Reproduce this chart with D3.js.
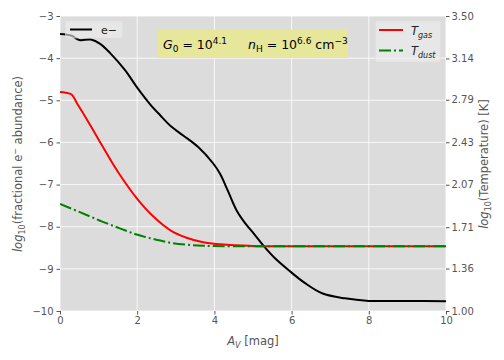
<!DOCTYPE html>
<html>
<head>
<meta charset="utf-8">
<script src="https://cdn.jsdelivr.net/npm/d3@7"></script>
<style>
body { margin: 0; background: #fff; }
text { font-family: "DejaVu Sans", sans-serif; }
</style>
</head>
<body>
<svg id="chart" width="504" height="360"></svg>
<script>
// A_V grid and curves
var avElec = [0, 0.3, 0.5, 0.8, 1.04, 1.3, 1.68, 2.0, 2.33, 2.59, 2.89, 3.2, 3.58, 3.97, 4.15, 4.35, 4.58, 4.8, 5.01, 5.27, 5.57, 5.96, 6.35, 6.79, 7.38, 8.0, 9.0, 10.0];
var logElec = [-3.43, -3.47, -3.57, -3.56, -3.66, -3.88, -4.28, -4.7, -5.09, -5.35, -5.63, -5.84, -6.11, -6.5, -6.75, -7.15, -7.62, -7.92, -8.15, -8.45, -8.75, -9.06, -9.34, -9.58, -9.70, -9.76, -9.76, -9.77];

var avGas = [0, 0.15, 0.3, 0.45, 0.6, 0.8, 1.04, 1.3, 1.55, 1.99, 2.42, 2.85, 3.28, 3.71, 4.15, 5.0, 6.0, 7.0, 8.0, 9.0, 10.0];
var logTgas = [2.856, 2.85, 2.835, 2.755, 2.675, 2.565, 2.43, 2.285, 2.155, 1.955, 1.80, 1.686, 1.621, 1.582, 1.565, 1.551, 1.548, 1.548, 1.548, 1.548, 1.548];

var avDust = [0, 0.5, 1.04, 1.55, 1.99, 2.42, 2.85, 3.28, 3.71, 4.5, 6.0, 7.0, 8.0, 9.0, 10.0];
var logTdust = [1.907, 1.84, 1.765, 1.70, 1.648, 1.61, 1.579, 1.562, 1.553, 1.549, 1.548, 1.548, 1.548, 1.548, 1.548];

var xTicks = [0, 2, 4, 6, 8, 10];
var yTicks = [-10, -9, -8, -7, -6, -5, -4, -3];
var tTicks = [1.00, 1.36, 1.71, 2.07, 2.43, 2.79, 3.14, 3.50];

(function() {
var svg = d3.select('#chart');
var mL = 60, mR = 446, mT = 16, mB = 311;

var x = d3.scaleLinear().domain([0, 10]).range([mL, mR]);
var y = d3.scaleLinear().domain([-10, -3]).range([mB, mT]);
var yT = d3.scaleLinear().domain([1.0, 3.5]).range([mB, mT]);

svg.append('rect')
    .attr('x', mL).attr('y', mT)
    .attr('width', mR - mL).attr('height', mB - mT)
    .attr('fill', '#dcdcdc');

// grid
svg.append('g').selectAll('line').data(xTicks).enter().append('line')
    .attr('x1', x).attr('x2', x).attr('y1', mT).attr('y2', mB)
    .attr('stroke', '#fff').attr('stroke-width', 0.8);
svg.append('g').selectAll('line').data(yTicks).enter().append('line')
    .attr('x1', mL).attr('x2', mR).attr('y1', y).attr('y2', y)
    .attr('stroke', '#fff').attr('stroke-width', 0.8);

function styleAxis(g) {
    g.select('.domain').remove();
    g.selectAll('.tick line').attr('stroke', '#555');
    g.selectAll('.tick text').attr('fill', '#555')
        .style('font-family', '"DejaVu Sans", sans-serif').style('font-size', '10px');
}

svg.append('g').attr('transform', 'translate(0,' + mB + ')')
    .call(d3.axisBottom(x).tickValues(xTicks).tickSize(3.5).tickPadding(2).tickFormat(d3.format('d')))
    .call(styleAxis);
svg.append('g').attr('transform', 'translate(' + mL + ',0)')
    .call(d3.axisLeft(y).tickValues(yTicks).tickSize(3.5).tickPadding(3).tickFormat(function(d) { return d < 0 ? '\u2212' + (-d) : d; }))
    .call(styleAxis);
svg.append('g').attr('transform', 'translate(' + mR + ',0)')
    .call(d3.axisRight(yT).tickValues(tTicks).tickSize(3.5).tickPadding(2).tickFormat(d3.format('.2f')))
    .call(styleAxis);

// curves
var lineE = d3.line().x(function(d) { return x(d[0]); }).y(function(d) { return y(d[1]); }).curve(d3.curveCatmullRom.alpha(0.5));
var lineT = d3.line().x(function(d) { return x(d[0]); }).y(function(d) { return yT(d[1]); }).curve(d3.curveCatmullRom.alpha(0.5));

svg.append('clipPath').attr('id', 'plotclip').append('rect')
    .attr('x', mL).attr('y', mT).attr('width', mR - mL).attr('height', mB - mT);
var plot = svg.append('g').attr('clip-path', 'url(#plotclip)');

plot.append('path').datum(d3.zip(avElec, logElec)).attr('d', lineE)
    .attr('fill', 'none').attr('stroke', '#000').attr('stroke-width', 2);
plot.append('path').datum(d3.zip(avGas, logTgas)).attr('d', lineT)
    .attr('fill', 'none').attr('stroke', '#ff0000').attr('stroke-width', 2);
plot.append('path').datum(d3.zip(avDust, logTdust)).attr('d', lineT)
    .attr('fill', 'none').attr('stroke', '#008000').attr('stroke-width', 2)
    .attr('stroke-dasharray', '12,3,2,3');

// annotation box
svg.append('rect').attr('x', 158).attr('y', 30).attr('width', 190).attr('height', 28)
    .attr('fill', '#e7e79b');
var ann = svg.append('text').attr('x', 163).attr('y', 49).attr('font-size', 12.5).attr('fill', '#000');
ann.append('tspan').attr('font-style', 'italic').text('G');
ann.append('tspan').attr('font-size', 9).attr('dy', 3).text('0');
ann.append('tspan').attr('dy', -3).text(' = 10');
ann.append('tspan').attr('font-size', 9).attr('dy', -5).text('4.1');
ann.append('tspan').attr('dy', 5).attr('x', 248).attr('font-style', 'italic').text('n');
ann.append('tspan').attr('font-size', 9).attr('dy', 3).text('H');
ann.append('tspan').attr('dy', -3).text(' = 10');
ann.append('tspan').attr('font-size', 9).attr('dy', -5).text('6.6');
ann.append('tspan').attr('dy', 5).text(' cm');
ann.append('tspan').attr('font-size', 9).attr('dy', -5).text('\u22123');

// legends
svg.append('rect').attr('x', 65.5).attr('y', 21).attr('width', 57).attr('height', 17).attr('rx', 2)
    .attr('fill', '#eeeeee').attr('fill-opacity', 0.6).attr('stroke', '#e0e0e0').attr('stroke-opacity', 0.6);
svg.append('line').attr('x1', 70).attr('x2', 92).attr('y1', 29.5).attr('y2', 29.5)
    .attr('stroke', '#000').attr('stroke-width', 2);
svg.append('text').attr('x', 101).attr('y', 34).attr('font-size', 11).attr('fill', '#222').text('e\u2212');

svg.append('rect').attr('x', 375.5).attr('y', 21).attr('width', 65).attr('height', 41).attr('rx', 2)
    .attr('fill', '#eeeeee').attr('fill-opacity', 0.6).attr('stroke', '#e0e0e0').attr('stroke-opacity', 0.6);
svg.append('line').attr('x1', 379).attr('x2', 403).attr('y1', 30).attr('y2', 30)
    .attr('stroke', '#ff0000').attr('stroke-width', 2);
svg.append('line').attr('x1', 379).attr('x2', 403).attr('y1', 50.5).attr('y2', 50.5)
    .attr('stroke', '#008000').attr('stroke-width', 2).attr('stroke-dasharray', '12,3,2,3');
var lg1 = svg.append('text').attr('x', 411).attr('y', 35).attr('font-size', 11.5).attr('fill', '#222');
lg1.append('tspan').attr('font-style', 'italic').text('T');
lg1.append('tspan').attr('font-style', 'italic').attr('font-size', 8).attr('dy', 2.5).text('gas');
var lg2 = svg.append('text').attr('x', 411).attr('y', 55).attr('font-size', 11.5).attr('fill', '#222');
lg2.append('tspan').attr('font-style', 'italic').text('T');
lg2.append('tspan').attr('font-style', 'italic').attr('font-size', 8).attr('dy', 2.5).text('dust');

// axis labels
var xl = svg.append('text').attr('x', 253).attr('y', 345).attr('text-anchor', 'middle')
    .attr('font-size', 11.5).attr('fill', '#555');
xl.append('tspan').attr('font-style', 'italic').text('A');
xl.append('tspan').attr('font-style', 'italic').attr('font-size', 8).attr('dy', 2.5).text('V');
xl.append('tspan').attr('dy', -2.5).text(' [mag]');

var yl = svg.append('text').attr('transform', 'translate(22,164) rotate(-90)').attr('text-anchor', 'middle')
    .attr('font-size', 11.5).attr('fill', '#555');
yl.append('tspan').attr('font-style', 'italic').text('log');
yl.append('tspan').attr('font-size', 8).attr('dy', 2.5).text('10');
yl.append('tspan').attr('dy', -2.5).text('(fractional e');
yl.append('tspan').attr('font-size', 8).attr('dy', -4.5).text('\u2212');
yl.append('tspan').attr('dy', 4.5).text(' abundance)');

var yr = svg.append('text').attr('transform', 'translate(488,164) rotate(-90)').attr('text-anchor', 'middle')
    .attr('font-size', 11.5).attr('fill', '#555');
yr.append('tspan').attr('font-style', 'italic').text('log');
yr.append('tspan').attr('font-size', 8).attr('dy', 2.5).text('10');
yr.append('tspan').attr('dy', -2.5).text('(Temperature) [K]');
})();
</script>
</body>
</html>
